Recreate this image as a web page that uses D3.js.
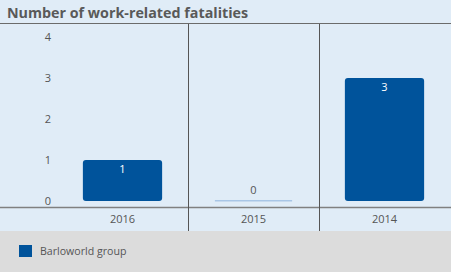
<!DOCTYPE html>
<html><head><meta charset="utf-8">
<script src="https://cdn.jsdelivr.net/npm/d3@7"></script>
<style>body{margin:0;padding:0;}svg{display:block;}</style>
</head><body>
<script>
const categories = ["2016", "2015", "2014"];
const values = [1, 0, 3];
const yTicks = [0, 1, 2, 3, 4];
const seriesName = "Barloworld group";
const title = "Number of work-related fatalities";

const W = 451, H = 272;
const svg = d3.select("body").append("svg").attr("width", W).attr("height", H);
const font = "'Open Sans', 'Noto Sans', sans-serif";

svg.append("rect").attr("width", W).attr("height", 231).attr("fill", "#e0ecf7");
svg.append("rect").attr("y", 231).attr("width", W).attr("height", H - 231).attr("fill", "#dcdcdc");

svg.append("text").attr("x", 7).attr("y", 18).text(title)
  .attr("font-family", font).attr("font-weight", "bold").attr("font-size", 14.3).attr("fill", "#595959");

const x = d3.scaleBand().domain(categories).range([57, 450]).padding(0);
const y = d3.scaleLinear().domain([0, 4]).range([201, 37]);

// grid lines
svg.append("line").attr("x1", 0).attr("x2", W).attr("y1", 23.5).attr("y2", 23.5).attr("stroke", "#6b6b6b").attr("stroke-width", 1);
svg.append("line").attr("x1", 0).attr("x2", W).attr("y1", 207.5).attr("y2", 207.5).attr("stroke", "#808080").attr("stroke-width", 1.5);
categories.slice(1).forEach(c => {
  const xx = Math.round(x(c)) + 0.5;
  svg.append("line").attr("x1", xx).attr("x2", xx).attr("y1", 24).attr("y2", 231).attr("stroke", "#555").attr("stroke-width", 1);
});

// y axis labels
svg.append("g").selectAll("text").data(yTicks).join("text")
  .attr("x", 48).attr("y", d => y(d)).attr("dy", "0.35em").attr("text-anchor", "middle")
  .attr("font-family", font).attr("font-size", 11).attr("fill", "#555").text(d => d);

const bw = x.bandwidth() * 0.605;
const g = svg.append("g");
categories.forEach((c, i) => {
  const cx = x(c) + x.bandwidth() / 2;
  const v = values[i];
  if (v > 0) {
    g.append("rect").attr("x", cx - bw / 2).attr("y", y(v)).attr("width", bw).attr("height", y(0) - y(v))
      .attr("rx", 3).attr("fill", "#00539b");
    g.append("text").attr("x", cx).attr("y", y(v) + 9).attr("dy", "0.35em").attr("text-anchor", "middle")
      .attr("font-family", font).attr("font-size", 11).attr("fill", "#fff").text(v);
  } else {
    g.append("rect").attr("x", cx - bw / 2 + 1).attr("y", y(0) - 1).attr("width", bw - 2).attr("height", 1.5)
      .attr("fill", "#a9c6e6");
    g.append("text").attr("x", cx).attr("y", y(0) - 11).attr("dy", "0.35em").attr("text-anchor", "middle")
      .attr("font-family", font).attr("font-size", 11).attr("fill", "#555").text(v);
  }
  g.append("text").attr("x", cx).attr("y", 219).attr("dy", "0.35em").attr("text-anchor", "middle")
    .attr("font-family", font).attr("font-size", 11).attr("fill", "#555").text(c);
});

// legend
svg.append("rect").attr("x", 19).attr("y", 245).attr("width", 13).attr("height", 12).attr("fill", "#00539b");
svg.append("text").attr("x", 40).attr("y", 251).attr("dy", "0.35em")
  .attr("font-family", font).attr("font-size", 10.6).attr("fill", "#555").text(seriesName);
</script>
</body></html>
